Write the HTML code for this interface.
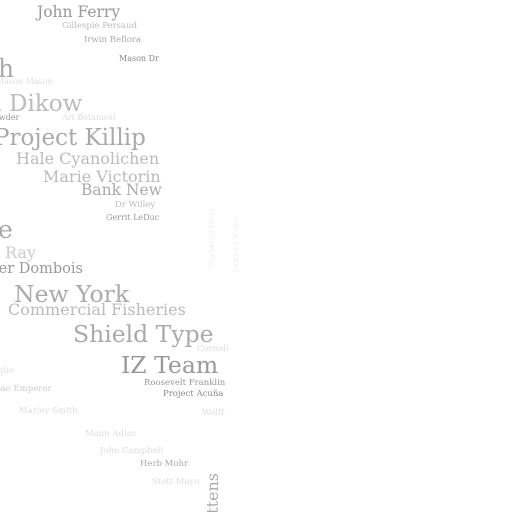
<!DOCTYPE html>
<html><head><meta charset="utf-8"><style>
html,body{margin:0;padding:0;background:#fff;width:512px;height:512px;overflow:hidden}
svg text{font-family:"DejaVu Serif","Liberation Serif",serif}
</style></head><body>
<svg width="512" height="512" viewBox="0 0 512 512">
<g id="words"></g>
</svg>
<script>
const words=["John Ferry","Gillespie Persaud","Irwin Reflora","Mason Dr","h","Mason Mason","a Dikow","Crowder","Art Botanical","Project Killip","Hale Cyanolichen","Marie Victorin","Bank New","Dr Willey","Gerrit LeDuc","e","Ray","ler Dombois","New York","Commercial Fisheries","Shield Type","Cornell","IZ Team","Roosevelt Franklin","Project Acuña","eaglie","Lao Emperor","Marley Smith","Wolff","Mann Adler","John Campbell","Herb Mohr","Stott Mayo"];
const sizes=[15.5,8.5,8.5,8,25,8,23,8,8,23,16,16,15.5,8.5,8,25,16,14.5,23.5,16,23.5,8.5,23.5,8.5,8.5,8.5,8.5,8.5,8.5,8.5,8.5,8.5,8.5];
const xs=[37,62,84,119,-2,-4,-12,-16,62,-6,16,43,81,115,106,-2,5,-6,14,8,73,197,121,144,163,-12,-5,19,202,85,100,140,152];
const ys=[17,28,42,61,77,84,111,120,120,145,164,182,195,207,220,238,258,273,302,315,342,351,373,385,396,373,391,413,415,436,453,466,484];
const shades=["#999","#bbb","#aaa","#888","#aaa","#ddd","#bbb","#999","#ddd","#aaa","#bbb","#bbb","#aaa","#bbb","#999","#aaa","#ccc","#999","#aaa","#bbb","#aaa","#ddd","#999","#999","#888","#ddd","#ccc","#ddd","#ddd","#ddd","#ddd","#aaa","#ddd"];
const g=document.getElementById('words');
const NS="http://www.w3.org/2000/svg";
words.forEach((w,i)=>{
  const t=document.createElementNS(NS,'text');
  
  
  t.setAttribute('x',xs[i]);t.setAttribute('y',ys[i]);
  t.setAttribute('font-size',sizes[i]);t.setAttribute('fill',shades[i]);
  t.textContent=w;g.appendChild(t);
});
const vwords=["Pattens","Gustavus Hoyt","Lambert Walker"];
const vsizes=[16,8,7];
const vx=[218,214,238];
const vy=[473,268,272];
const vshades=["#aaa","#eee","#f2f2f2"];
vwords.forEach((w,i)=>{
  const t=document.createElementNS(NS,'text');
  
  
  t.setAttribute('transform','translate('+vx[i]+','+vy[i]+') rotate(-90)');
  t.setAttribute('text-anchor',i===0?'end':'start');
  t.setAttribute('font-size',vsizes[i]);t.setAttribute('fill',vshades[i]);
  t.textContent=w;g.appendChild(t);
});
</script>
</body></html>
